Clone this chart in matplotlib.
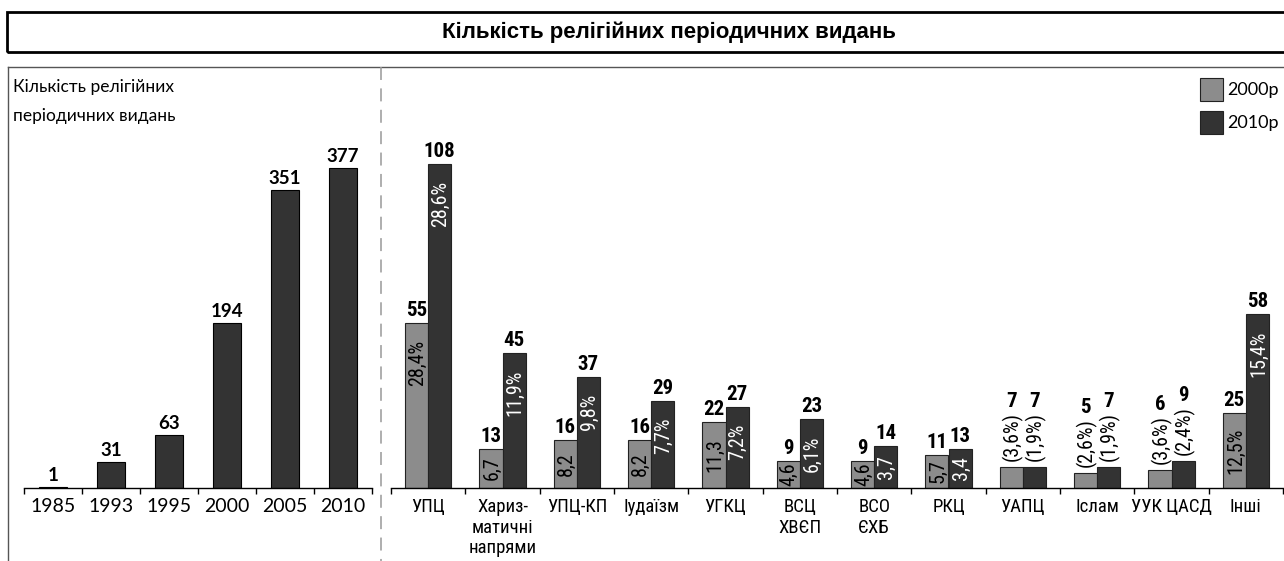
import matplotlib
matplotlib.use("Agg")
import matplotlib.pyplot as plt
from matplotlib import font_manager
from matplotlib.patches import Rectangle
from matplotlib.lines import Line2D
import numpy as np

# ---------------- data ----------------
years = ['1985', '1993', '1995', '2000', '2005', '2010']
year_counts = [1, 31, 63, 194, 351, 377]

categories = ['УПЦ', 'Хариз-\nматичні\nнапрями', 'УПЦ-КП', 'Іудаїзм', 'УГКЦ',
              'ВСЦ\nХВЄП', 'ВСО\nЄХБ', 'РКЦ', 'УАПЦ', 'Іслам', 'УУК ЦАСД', 'Інші']
v2000 = [55, 13, 16, 16, 22, 9, 9, 11, 7, 5, 6, 25]
v2010 = [108, 45, 37, 29, 27, 23, 14, 13, 7, 7, 9, 58]
p2000 = ['28,4%', '6,7', '8,2', '8,2', '11,3', '4,6', '4,6', '5,7',
         '(3,6%)', '(2,6%)', '(3,6%)', '12,5%']
p2010 = ['28,6%', '11,9%', '9,8%', '7,7%', '7,2%', '6,1%', '3,7', '3,4',
         '(1,9%)', '(1,9%)', '(2,4%)', '15,4%']
series_labels = ['2000р', '2010р']

title = 'Кількість релігійних періодичних видань'
left_label_lines = ['Кількість релігійних', 'періодичних видань']

# ---------------- fonts ----------------
names = {f.name for f in font_manager.fontManager.ttflist}
def pick(cands):
    for c in cands:
        if c in names:
            return c
    return 'DejaVu Sans'
NARROW = pick(['Liberation Sans Narrow', 'Roboto Condensed', 'DejaVu Sans'])
GEO = pick(['Lato', 'Noto Sans', 'DejaVu Sans'])
BOLD = pick(['Liberation Sans', 'Arial', 'DejaVu Sans'])

C_GREY = '#8c8c8c'
C_DARK = '#333333'

W, H = 1284, 561
fig = plt.figure(figsize=(W / 100, H / 100), dpi=100)

def fx(x):
    return x / W
def fy(y):
    return 1 - y / H

def px_axes(x0, y0, x1, y1):
    return fig.add_axes([fx(x0), fy(y1), (x1 - x0) / W, (y1 - y0) / H])

# ---------------- decorations ----------------
fig.patches.append(Rectangle((fx(6.5), fy(51.5)), fx(1320) - fx(6.5), fy(11.5) - fy(51.5),
                             transform=fig.transFigure, fill=False, lw=2.0,
                             edgecolor='black'))
fig.text(fx(669), fy(32), title, ha='center', va='center', fontsize=16,
         fontweight='bold', family=BOLD)

fig.lines.append(Line2D([fx(7.5), fx(1290)], [fy(66.5), fy(66.5)],
                        transform=fig.transFigure, color='#555555', lw=1.0))
fig.lines.append(Line2D([fx(7.5), fx(7.5)], [fy(66.5), fy(570)],
                        transform=fig.transFigure, color='#555555', lw=1.0))
fig.lines.append(Line2D([fx(381), fx(381)], [fy(66.5), fy(570)],
                        transform=fig.transFigure, color='#999999', lw=1.1,
                        dashes=(8.5, 5.5)))

for i, line in enumerate(left_label_lines):
    fig.text(fx(13), fy(92 + 29 * i), line, ha='left', va='baseline',
             fontsize=12.5, family=GEO)

# legend
for i, (lab, col) in enumerate(zip(series_labels, [C_GREY, C_DARK])):
    y0 = 78 + 33 * i
    fig.patches.append(Rectangle((fx(1199.5), fy(y0 + 23)), 23 / W, 23 / H,
                                 transform=fig.transFigure, facecolor=col,
                                 edgecolor='#222222', lw=0.8))
    fig.text(fx(1227), fy(y0 + 12), lab, ha='left', va='center', fontsize=13,
             family=GEO)

# ---------------- left chart ----------------
axL = px_axes(24, 488 - 400 * 0.849, 372, 488)
xl = np.arange(len(years))
axL.bar(xl, year_counts, width=0.48, color=C_DARK, edgecolor='black', lw=0.8)
axL.set_xlim(-0.5, len(years) - 0.5)
axL.set_ylim(0, 400)
for s in ['top', 'right', 'left']:
    axL.spines[s].set_visible(False)
axL.spines['bottom'].set_linewidth(1.0)
axL.set_yticks([])
axL.set_xticks(xl)
axL.set_xticklabels(years, fontsize=14, family=GEO)
axL.tick_params(axis='x', which='major', length=0, pad=7)
axL.set_xticks(np.arange(-0.5, len(years)), minor=True)
axL.tick_params(axis='x', which='minor', length=4, width=1.0, direction='out')
axL.patch.set_alpha(0)
for x, v in zip(xl, year_counts):
    axL.annotate(str(v), (x, v), xytext=(0, 3), textcoords='offset pixels',
                 ha='center', va='bottom', fontsize=13.5, family=GEO,
                 fontweight='bold')

# ---------------- right chart ----------------
axR = px_axes(391, 488 - 360, 1283, 488)
xr = np.arange(len(categories))
bw = 0.31
axR.bar(xr - bw / 2, v2000, width=bw, color=C_GREY, edgecolor='#222222', lw=0.8)
axR.bar(xr + bw / 2, v2010, width=bw, color=C_DARK, edgecolor='#222222', lw=0.8)
axR.set_xlim(-0.5, len(categories) - 0.5)
axR.set_ylim(0, 120)
for s in ['top', 'right', 'left']:
    axR.spines[s].set_visible(False)
axR.spines['bottom'].set_linewidth(1.0)
axR.set_yticks([])
axR.set_xticks(xr)
axR.set_xticklabels(categories, fontsize=13.5, family=NARROW, linespacing=1.2,
                    va='top')
axR.tick_params(axis='x', which='major', length=0, pad=7)
axR.set_xticks(np.arange(-0.5, len(categories)), minor=True)
axR.tick_params(axis='x', which='minor', length=4, width=1.0, direction='out')
axR.patch.set_alpha(0)

PXU = 3.0  # pixels per unit on right chart
PF = 14.5
for xs, vals, pcts, tcol in [(xr - bw / 2, v2000, p2000, 'black'),
                             (xr + bw / 2, v2010, p2010, 'white')]:
    for x, v, p in zip(xs, vals, pcts):
        if p.startswith('('):
            axR.annotate(p, (x, v), xytext=(1, 6), textcoords='offset pixels',
                         rotation=90, ha='center', va='bottom', fontsize=PF,
                         family=NARROW, color='black')
            axR.annotate(str(v), (x, v), xytext=(0, 56), textcoords='offset pixels',
                         ha='center', va='bottom', fontsize=15, family=NARROW,
                         fontweight='bold')
        else:
            if v * PXU > 80:
                axR.annotate(p, (x, v), xytext=(1, -17), textcoords='offset pixels',
                             rotation=90, ha='center', va='top', fontsize=PF,
                             family=NARROW, color=tcol)
            else:
                axR.annotate(p, (x, v / 2), xytext=(1, 0), textcoords='offset pixels',
                             rotation=90, ha='center', va='center', fontsize=PF,
                             family=NARROW, color=tcol)
            axR.annotate(str(v), (x, v), xytext=(0, 3), textcoords='offset pixels',
                         ha='center', va='bottom', fontsize=15, family=NARROW,
                         fontweight='bold')

fig.savefig('out.png', dpi=100)
